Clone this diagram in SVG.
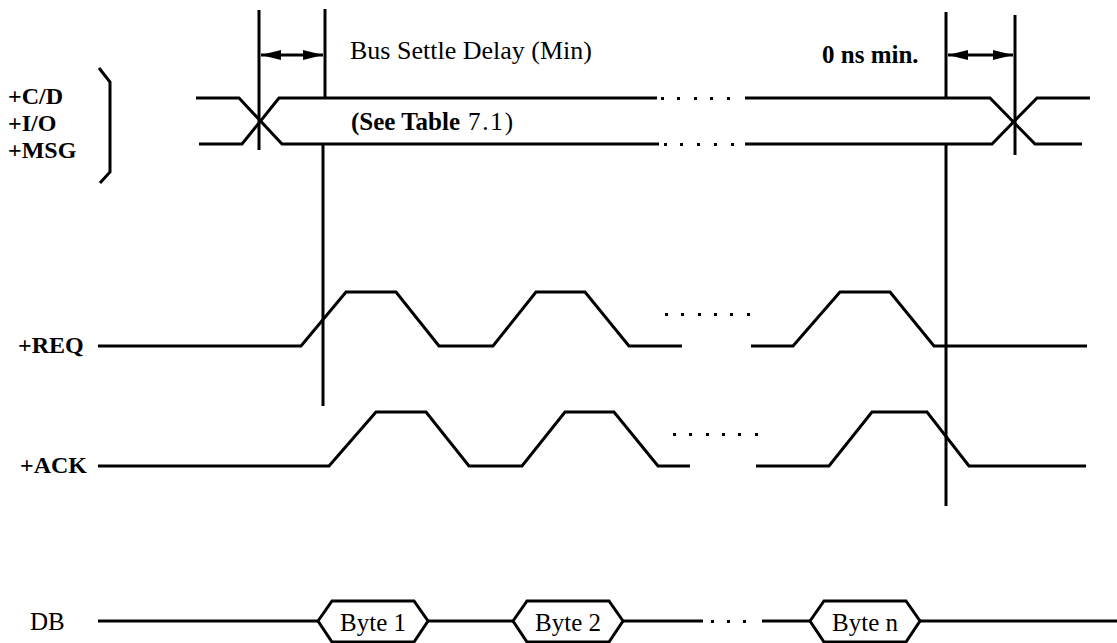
<svg xmlns="http://www.w3.org/2000/svg" width="1117" height="643" viewBox="0 0 1117 643">
<style>
.w{fill:none;stroke:#000;stroke-width:3;stroke-linejoin:miter}
.v{stroke:#000;stroke-width:3}
text{font-family:'Liberation Serif','Times New Roman',Times,serif;font-size:25px;fill:#000}
.b{font-weight:bold}
.l{font-size:24px}
.d{fill:#000}
</style>
<defs>
<marker id="ah" markerWidth="22" markerHeight="12" refX="20" refY="6" orient="auto-start-reverse" markerUnits="userSpaceOnUse">
<path d="M0,1 L20,6 L0,11 Z" fill="#000"/>
</marker>
<rect id="dot" width="3" height="3" class="d"/>
</defs>
<rect width="1117" height="643" fill="#fff"/>

<g id="labels">
<text class="b l" x="8" y="104">+C/D</text>
<text class="b l" x="8" y="131">+I/O</text>
<text class="b l" x="8" y="158">+MSG</text>
<path class="w" d="M99,68 L110,82 L110,172 L100,183"/>
<text class="b l" x="18" y="353">+REQ</text>
<text class="b l" x="20" y="473">+ACK</text>
<text x="30" y="630">DB</text>
</g>

<g id="bus-cd">
<path class="w" d="M196,98 L239,98 L282,144 L659,144"/>
<path class="w" d="M199,144 L242,144 L279,98 L657,98"/>
<path class="w" d="M745,98 L990,98 L1035,144 L1082,144"/>
<path class="w" d="M745,144 L992,144 L1037,98 L1090,98"/>
<use href="#dot" x="661" y="97"/><use href="#dot" x="677" y="97"/><use href="#dot" x="694" y="97"/><use href="#dot" x="710" y="97"/><use href="#dot" x="727" y="97"/>
<use href="#dot" x="664" y="143"/><use href="#dot" x="680" y="143"/><use href="#dot" x="697" y="143"/><use href="#dot" x="714" y="143"/><use href="#dot" x="731" y="143"/>
<text class="b" x="351" y="130">(See Table</text>
<text x="468" y="130" textLength="45" lengthAdjust="spacing">7.1)</text>
</g>

<g id="req">
<path class="w" d="M98,346 L301,346 L346,292 L396,292 L439,346 L493,346 L536,292 L585,292 L629,346 L682,346"/>
<path class="w" d="M751,346 L793,346 L840,292 L890,292 L934,346 L1087,346"/>
<use href="#dot" x="665" y="313"/><use href="#dot" x="681" y="313"/><use href="#dot" x="698" y="313"/><use href="#dot" x="714" y="313"/><use href="#dot" x="730" y="313"/><use href="#dot" x="747" y="313"/>
</g>

<g id="ack">
<path class="w" d="M98,466 L329,466 L376,412 L426,412 L469,466 L522,466 L565,412 L614,412 L658,466 L690,466"/>
<path class="w" d="M756,466 L829,466 L872,412 L927,412 L969,466 L1086,466"/>
<use href="#dot" x="673" y="433"/><use href="#dot" x="689" y="433"/><use href="#dot" x="706" y="433"/><use href="#dot" x="722" y="433"/><use href="#dot" x="738" y="433"/><use href="#dot" x="755" y="433"/>
</g>

<g id="db">
<path class="w" d="M98,621 L318,621 M428,621 L513,621 M623,621 L703,621 M762,621 L810,621 M920,621 L1117,621"/>
<use href="#dot" x="711" y="620"/><use href="#dot" x="727" y="620"/><use href="#dot" x="743" y="620"/>
<g id="byte1"><path class="w" d="M318,621 L332,601 L414,601 L428,621 L414,642 L332,642 Z"/><text x="373" y="631" text-anchor="middle">Byte 1</text></g>
<g id="byte2"><path class="w" d="M513,621 L527,601 L609,601 L623,621 L609,642 L527,642 Z"/><text x="568" y="631" text-anchor="middle">Byte 2</text></g>
<g id="byten"><path class="w" d="M810,621 L824,601 L906,601 L920,621 L906,642 L824,642 Z"/><text x="865" y="631" text-anchor="middle">Byte n</text></g>
</g>

<g id="connectors">
<line class="v" x1="259" y1="10" x2="259" y2="150"/>
<line class="v" x1="325" y1="9" x2="325" y2="98"/>
<line class="v" x1="323" y1="144" x2="323" y2="406"/>
<line class="v" x1="946" y1="12" x2="946" y2="98"/>
<line class="v" x1="946" y1="144" x2="946" y2="506"/>
<line class="v" x1="1015" y1="15" x2="1015" y2="155"/>
<line class="v" x1="261" y1="55" x2="323" y2="55" marker-start="url(#ah)" marker-end="url(#ah)"/>
<line class="v" x1="948" y1="55" x2="1013" y2="55" marker-start="url(#ah)" marker-end="url(#ah)"/>
</g>

<g id="annotations">
<text x="350" y="59" style="font-size:26px">Bus Settle Delay (Min)</text>
<text class="b" x="822" y="63">0 ns min.</text>
</g>
</svg>
